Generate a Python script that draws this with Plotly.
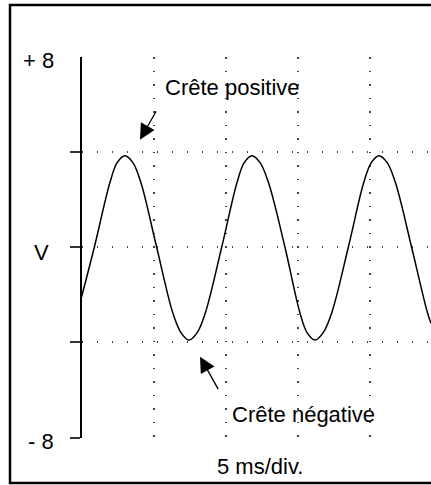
import plotly.graph_objects as go

# Oscilloscope trace: time in divisions (5 ms/div), amplitude in volts
t_div = [0.000, 0.178, 0.395, 0.495, 0.604, 0.714, 0.825, 1.044, 1.268, 1.383,
         1.493, 1.605, 1.720, 1.947, 2.160, 2.260, 2.368, 2.480, 2.597, 2.826,
         3.034, 3.135, 3.243, 3.355, 3.475, 3.706, 3.920, 4.025, 4.132, 4.245,
         4.360, 4.585, 4.800, 4.854]
volts = [-2.10, 0.00, 2.72, 3.56, 3.85, 3.56, 2.72, 0.00, -2.76, -3.60,
         -3.90, -3.60, -2.76, 0.00, 2.72, 3.56, 3.85, 3.56, 2.72, 0.00,
         -2.76, -3.60, -3.90, -3.60, -2.76, 0.00, 2.72, 3.56, 3.85, 3.56,
         2.72, 0.00, -2.70, -3.20]

grid_div = [1, 2, 3, 4]
grid_volts = [-8, -4, 0, 4]
axis_labels = ["+ 8", "V", "- 8"]
axis_label_volts = [8, 0, -8]

W, H = 431, 485
X0_PX, DIV_PX = 81.5, 72.0
Y_TOP_PX, Y_BOT_PX = 57.0, 437.5

FONT = "Liberation Sans, Arial, sans-serif"

fig = go.Figure()
fig.add_trace(go.Scatter(
    x=t_div, y=volts, mode="lines",
    line=dict(color="black", width=1.5, shape="spline", smoothing=1.0),
    hoverinfo="skip", showlegend=False,
))

fig.update_layout(
    width=W, height=H,
    margin=dict(l=0, r=0, t=0, b=0),
    paper_bgcolor="white", plot_bgcolor="white",
    showlegend=False,
    xaxis=dict(
        domain=[X0_PX / W, 1.0],
        range=[0, (W - X0_PX) / DIV_PX],
        tickvals=grid_div, showticklabels=False, ticks="",
        showgrid=True, gridcolor="#444", gridwidth=1.5, griddash="1.5px,12px",
        zeroline=False, showline=False, fixedrange=True,
    ),
    yaxis=dict(
        domain=[1 - Y_BOT_PX / H, 1 - Y_TOP_PX / H],
        range=[-8, 8],
        tickvals=grid_volts, showticklabels=False,
        ticks="outside", ticklen=10, tickwidth=1.5, tickcolor="#333",
        showgrid=True, gridcolor="#444", gridwidth=1.5, griddash="1.5px,13.5px",
        zeroline=False, showline=True, linecolor="black", linewidth=1.5,
        fixedrange=True,
    ),
)

# Frame around the figure
fig.add_shape(type="rect", xref="paper", yref="paper",
              x0=10 / W, x1=1.02, y0=1 - 483 / H, y1=1 - 5 / H,
              line=dict(color="black", width=2.5))

# Y labels
label_y_px = [60, 252, 441]
label_right_px = [56, 51, 56]
for txt, yp, xr in zip(axis_labels, label_y_px, label_right_px):
    fig.add_annotation(text=txt, xref="paper", yref="paper",
                       x=xr / W, y=1 - yp / H, xanchor="right", yanchor="middle",
                       showarrow=False, font=dict(family=FONT, size=22, color="black"))

# Peak annotations
fig.add_annotation(text="Crête positive", xref="paper", yref="paper",
                   x=163 / W, y=1 - 87 / H, xanchor="left", yanchor="middle",
                   showarrow=False, font=dict(family=FONT, size=22, color="black"))
fig.add_annotation(text="Crête négative", xref="paper", yref="paper",
                   x=230 / W, y=1 - 414 / H, xanchor="left", yanchor="middle",
                   showarrow=False, font=dict(family=FONT, size=22, color="black"))
fig.add_annotation(text="5 ms/div.", xref="paper", yref="paper",
                   x=215 / W, y=1 - 466 / H, xanchor="left", yanchor="middle",
                   showarrow=False, font=dict(family=FONT, size=22, color="black"))

# Arrows pointing at a positive and a negative crest
fig.add_annotation(x=0.8125, y=4.52, xref="x", yref="y", text="",
                   showarrow=True, arrowhead=2, arrowsize=2.4, arrowwidth=1.3,
                   arrowcolor="black", ax=17, ay=-30)
fig.add_annotation(x=1.646, y=-4.60, xref="x", yref="y", text="",
                   showarrow=True, arrowhead=2, arrowsize=2.4, arrowwidth=1.3,
                   arrowcolor="black", ax=19, ay=34)

fig.write_html("out.html")
